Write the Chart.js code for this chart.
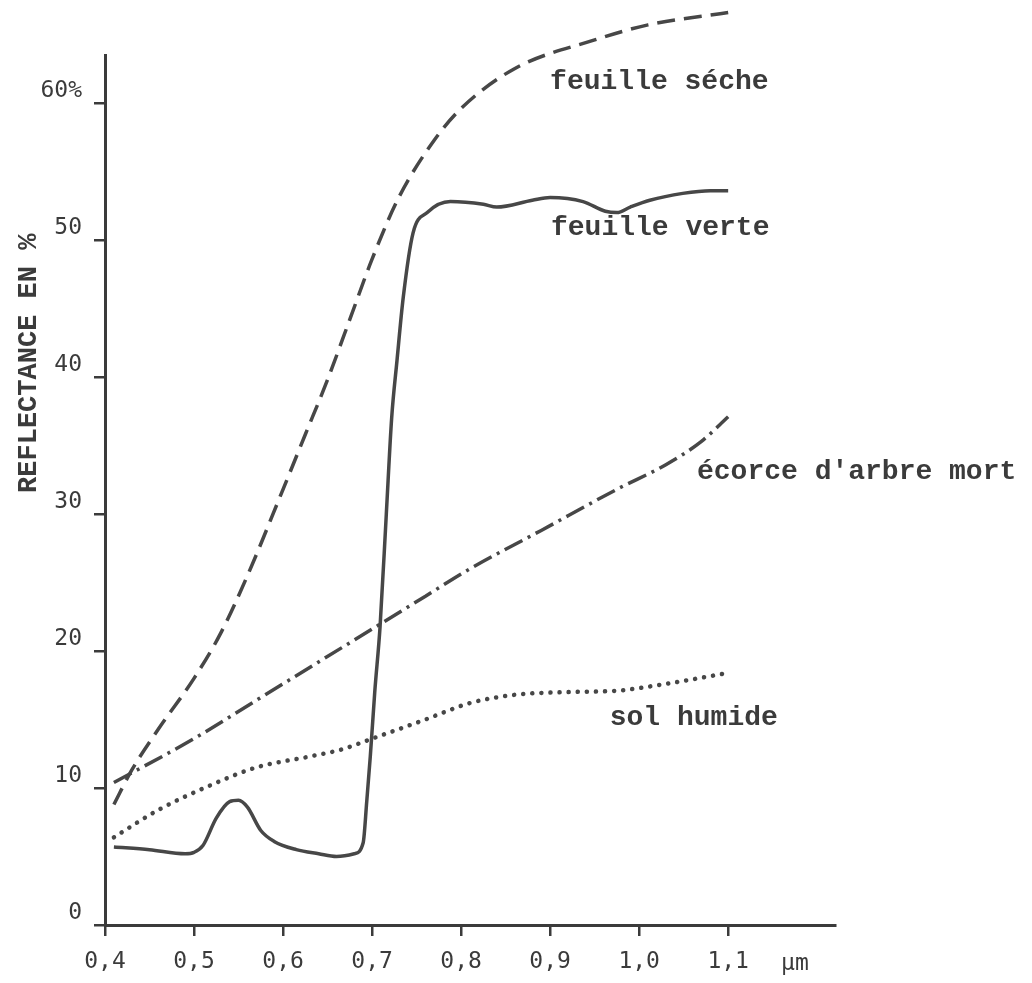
<!DOCTYPE html>
<html>
<head>
<meta charset="utf-8">
<script src="https://cdn.jsdelivr.net/npm/chart.js@4.4.0/dist/chart.umd.min.js"></script>
<style>
  html, body { margin: 0; padding: 0; background: #fff; }
  #wrap { width: 1032px; height: 983px; }
</style>
</head>
<body>
<div id="wrap"><canvas id="theChart" width="1032" height="983"></canvas></div>
<script>

// ticks
var xTicks = [0.4, 0.5, 0.6, 0.7, 0.8, 0.9, 1.0, 1.1];
var xTickLabels = ['0,4', '0,5', '0,6', '0,7', '0,8', '0,9', '1,0', '1,1'];
var yTicks = [0, 10, 20, 30, 40, 50, 60];
var yTickLabels = ['0', '10', '20', '30', '40', '50', '60%'];

var yTitle = 'REFLECTANCE EN %';
var xUnit = 'µm';

// feuille seche (dashed)
var secheX = [0.41, 0.43, 0.46, 0.50, 0.53, 0.56, 0.60, 0.625, 0.65, 0.675, 0.70, 0.73, 0.77, 0.80, 0.86, 0.95, 1.01, 1.10];
var secheY = [8.8, 11.3, 14.3, 18.0, 21.3, 25.5, 31.8, 35.8, 39.8, 44.2, 48.6, 53.1, 57.3, 59.6, 62.5, 64.6, 65.7, 66.6];

// feuille verte (solid)
var verteX = [0.41, 0.45, 0.49, 0.50, 0.51, 0.525, 0.54, 0.55, 0.56, 0.575, 0.59, 0.615, 0.64, 0.66, 0.68, 0.69, 0.694, 0.698, 0.703, 0.709, 0.716, 0.722, 0.728, 0.735, 0.746, 0.762, 0.788, 0.825, 0.84, 0.88, 0.90, 0.937, 0.962, 0.975, 0.99, 1.012, 1.049, 1.08, 1.10];
var verteY = [5.7, 5.5, 5.2, 5.3, 5.8, 7.8, 9.0, 9.1, 8.6, 6.9, 6.1, 5.5, 5.2, 5.0, 5.2, 6.0, 9.0, 12.3, 17.0, 21.8, 30.0, 37.0, 41.2, 45.8, 50.5, 52.0, 52.8, 52.6, 52.4, 52.9, 53.1, 52.8, 52.1, 52.0, 52.4, 52.9, 53.4, 53.6, 53.6];

// ecorce d'arbre mort (dash-dot)
var ecorceX = [0.41, 0.50, 0.57, 0.64, 0.68, 0.71, 0.76, 0.81, 0.89, 0.975, 1.03, 1.07, 1.10];
var ecorceY = [10.4, 13.6, 16.4, 19.2, 20.8, 22.0, 24.0, 26.0, 28.8, 31.8, 33.6, 35.3, 37.1];

// sol humide (dotted)
var solX = [0.41, 0.46, 0.515, 0.57, 0.63, 0.665, 0.70, 0.76, 0.81, 0.86, 0.92, 0.975, 1.03, 1.10];
var solY = [6.4, 8.4, 10.1, 11.5, 12.3, 12.8, 13.6, 15.0, 16.2, 16.8, 17.0, 17.1, 17.6, 18.4];

// curve names, written next to each curve (x in µm, y in %)
var curveNames = ['feuille séche', 'feuille verte', "écorce d'arbre mort", 'sol humide'];
var nameAtX = [0.90, 0.901, 1.065, 0.967];
var nameAtY = [61.5, 50.9, 33.1, 15.1];

var ink = '#3b3b3b';
var lineInk = '#474747';

function pts(xs, ys) {
    return xs.map(function(x, i) { return { x: x, y: ys[i] }; });
}

function curve(label, xs, ys, dash, width, cap) {
    return {
        label: label,
        data: pts(xs, ys),
        borderColor: lineInk,
        borderWidth: width,
        borderDash: dash,
        borderCapStyle: cap || 'butt',
        pointRadius: 0,
        fill: false,
        cubicInterpolationMode: 'monotone',
        clip: false
    };
}

// text that is not part of an axis: y title, unit, curve names
var extraText = {
    id: 'extraText',
    afterDraw: function(chart) {
        var ctx = chart.ctx;
        var xs = chart.scales.x, ys = chart.scales.y;
        ctx.save();
        ctx.fillStyle = ink;
        ctx.textBaseline = 'middle';

        ctx.font = 'bold 28px "Liberation Mono"';
        ctx.textAlign = 'left';
        for (var i = 0; i < curveNames.length; i++) {
            ctx.fillText(curveNames[i], xs.getPixelForValue(nameAtX[i]), ys.getPixelForValue(nameAtY[i]));
        }

        ctx.font = '23px "DejaVu Sans Mono"';
        ctx.textAlign = 'center';
        ctx.fillText(xUnit, xs.getPixelForValue(1.175), xs.top + 39);

        ctx.translate(29, ys.getPixelForValue(41));
        ctx.rotate(-Math.PI / 2);
        ctx.font = 'bold 27px "Liberation Mono"';
        ctx.fillText(yTitle, 0, 0);
        ctx.restore();
    }
};

var ctx = document.getElementById('theChart').getContext('2d');

var theChart = new Chart(ctx, {
    type: 'line',
    data: {
        datasets: [
            curve('feuille séche', secheX, secheY, [18, 9], 3.5),
            curve('feuille verte', verteX, verteY, [], 3.5),
            curve("écorce d'arbre mort", ecorceX, ecorceY, [20, 6, 3, 6], 3.5),
            curve('sol humide', solX, solY, [0.1, 9], 4.5, 'round')
        ]
    },
    options: {
        responsive: false,
        animation: false,
        events: [],
        layout: { padding: { top: 55, right: 197, left: 0, bottom: 0 } },
        plugins: {
            legend: { display: false },
            tooltip: { enabled: false }
        },
        scales: {
            x: {
                type: 'linear',
                min: 0.4,
                max: 1.22,
                afterBuildTicks: function(scale) {
                    scale.ticks = xTicks.map(function(v) { return { value: v }; });
                },
                afterFit: function(scale) { scale.height = 58; },
                border: { display: true, color: ink, width: 3 },
                grid: { drawOnChartArea: false, drawTicks: true, tickLength: 11, color: ink, lineWidth: 2.5 },
                ticks: {
                    autoSkip: false,
                    maxRotation: 0,
                    padding: 12,
                    color: ink,
                    font: { family: '"DejaVu Sans Mono"', size: 23 },
                    callback: function(value) {
                        var i = xTicks.indexOf(Math.round(value * 10) / 10);
                        return i >= 0 ? xTickLabels[i] : '';
                    }
                }
            },
            y: {
                type: 'linear',
                min: 0,
                max: 63.5,
                afterBuildTicks: function(scale) {
                    scale.ticks = yTicks.map(function(v) { return { value: v }; });
                },
                afterFit: function(scale) { scale.width = 105; },
                border: { display: true, color: ink, width: 3 },
                grid: { drawOnChartArea: false, drawTicks: true, tickLength: 11, color: ink, lineWidth: 2.5 },
                ticks: {
                    autoSkip: false,
                    padding: 12,
                    labelOffset: -12,
                    color: ink,
                    font: { family: '"DejaVu Sans Mono"', size: 23 },
                    callback: function(value) {
                        var i = yTicks.indexOf(value);
                        return i >= 0 ? yTickLabels[i] : '';
                    }
                }
            }
        }
    },
    plugins: [extraText]
});

</script>
</body>
</html>
